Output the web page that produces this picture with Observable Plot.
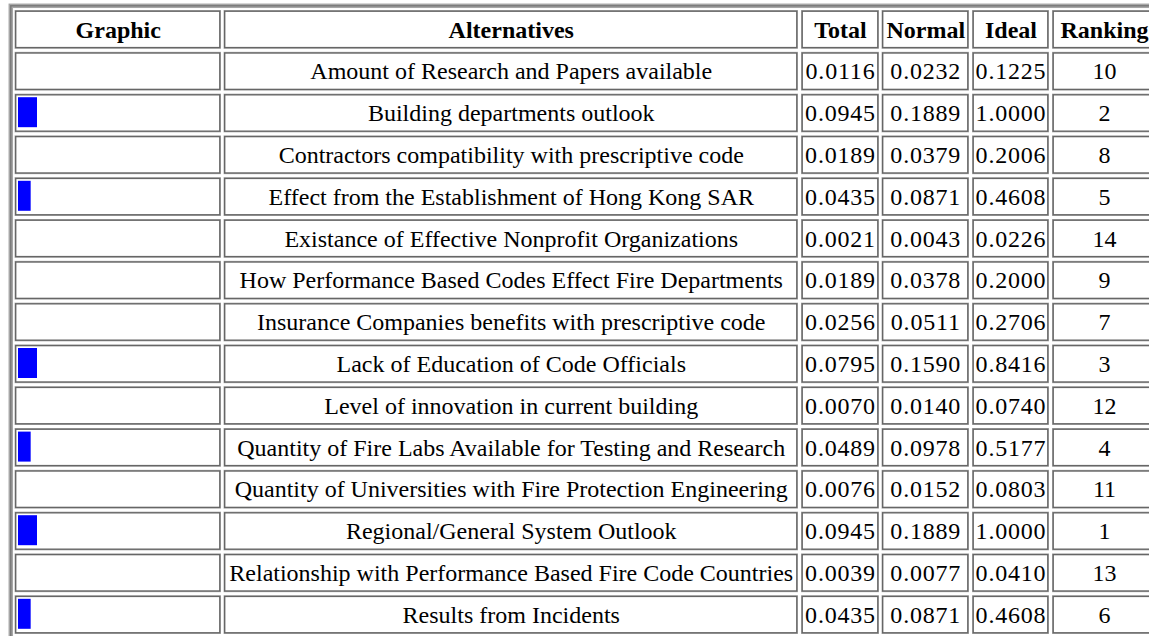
<!DOCTYPE html>
<html>
<head>
<meta charset="utf-8">
<script src="https://cdn.jsdelivr.net/npm/d3@7"></script>
<script src="https://cdn.jsdelivr.net/npm/@observablehq/plot@0.6"></script>
<style>
  html, body { margin: 0; padding: 0; background: #fff; overflow: hidden; }
  #chart svg { display: block; overflow: hidden; }
</style>
</head>
<body>
<div id="chart"></div>
<script>
// ---- data ----
const columns = ["Graphic", "Alternatives", "Total", "Normal", "Ideal", "Ranking"];
const alternatives = [
  "Amount of Research and Papers available",
  "Building departments outlook",
  "Contractors compatibility with prescriptive code",
  "Effect from the Establishment of Hong Kong SAR",
  "Existance of Effective Nonprofit Organizations",
  "How Performance Based Codes Effect Fire Departments",
  "Insurance Companies benefits with prescriptive code",
  "Lack of Education of Code Officials",
  "Level of innovation in current building",
  "Quantity of Fire Labs Available for Testing and Research",
  "Quantity of Universities with Fire Protection Engineering",
  "Regional/General System Outlook",
  "Relationship with Performance Based Fire Code Countries",
  "Results from Incidents"
];
const total   = [0.0116, 0.0945, 0.0189, 0.0435, 0.0021, 0.0189, 0.0256, 0.0795, 0.0070, 0.0489, 0.0076, 0.0945, 0.0039, 0.0435];
const normal  = [0.0232, 0.1889, 0.0379, 0.0871, 0.0043, 0.0378, 0.0511, 0.1590, 0.0140, 0.0978, 0.0152, 0.1889, 0.0077, 0.0871];
const ideal   = [0.1225, 1.0000, 0.2006, 0.4608, 0.0226, 0.2000, 0.2706, 0.8416, 0.0740, 0.5177, 0.0803, 1.0000, 0.0410, 0.4608];
const ranking = [10, 2, 8, 5, 14, 9, 7, 3, 12, 4, 11, 1, 13, 6];
// graphic bar length (levels)
const graphic = [0, 3, 0, 2, 0, 0, 0, 3, 0, 2, 0, 3, 0, 2];

// ---- layout (not data) ----
const W = 1149, H = 636;
const colEdges = {
  Graphic: [14.5, 221],
  Alternatives: [223.5, 798],
  Total: [801, 879],
  Normal: [881.5, 969],
  Ideal: [972, 1049],
  Ranking: [1052, 1156]
};
const center = c => (colEdges[c][0] + colEdges[c][1]) / 2;
const HEADER = "\u0000header";
const rowKeys = [HEADER, ...alternatives];

const rows = alternatives.map((name, i) => ({
  name, total: total[i], normal: normal[i], ideal: ideal[i], ranking: ranking[i], graphic: graphic[i]
}));
const cells = rowKeys.flatMap(r => columns.map(c => ({row: r, col: c})));

const barLen = d3.scaleLinear().domain([0, 3]).range([0, 19]);
const barStart = colEdges.Graphic[0] + 3.5;

const font = "'Liberation Serif', 'Times New Roman', serif";

const chart = Plot.plot({
  width: W,
  height: H,
  marginLeft: 10.3,
  marginTop: 5.3,
  marginRight: 0,
  marginBottom: 0,
  style: {fontFamily: font, color: "black", background: "white"},
  x: {type: "linear", domain: [0, W], range: [0, W], axis: null},
  y: {type: "band", domain: rowKeys, range: [10, 634], paddingInner: 0.072, paddingOuter: 0, round: false, axis: null},
  marks: [
    // outer table border
    Plot.frame({stroke: "#a6a6a6", strokeWidth: 4.5, insetRight: -20, insetBottom: -20}),
    Plot.frame({stroke: "#7a7a7a", strokeWidth: 1.5, insetRight: -20, insetBottom: -20}),
    // cells: light outer edge then dark inset line
    Plot.barX(cells, {
      x1: d => colEdges[d.col][0], x2: d => colEdges[d.col][1], y: "row",
      fill: "white", stroke: "#b4b4b4", strokeWidth: 1.2, inset: 0.6
    }),
    Plot.barX(cells, {
      x1: d => colEdges[d.col][0], x2: d => colEdges[d.col][1], y: "row",
      fill: "white", stroke: "#666", strokeWidth: 1.4, inset: 1.2
    }),
    // graphic bars
    Plot.barX(rows.filter(d => d.graphic > 0), {
      x1: () => barStart, x2: d => barStart + barLen(d.graphic), y: "name",
      fill: "#0000ff", insetTop: 3.6, insetBottom: 5.2
    }),
    // header texts
    Plot.text(columns, {
      x: c => center(c), y: () => HEADER, text: d => d,
      fontSize: 24, fontWeight: "bold", fill: "black", lineAnchor: "middle"
    }),
    // body texts
    Plot.text(rows, {x: () => center("Alternatives"), y: "name", text: "name", fontSize: 24, fill: "black", lineAnchor: "middle"}),
    Plot.text(rows, {x: () => center("Total"), y: "name", text: d => d.total.toFixed(4), fontSize: 24, fill: "black", lineAnchor: "middle"}),
    Plot.text(rows, {x: () => center("Normal"), y: "name", text: d => d.normal.toFixed(4), fontSize: 24, fill: "black", lineAnchor: "middle"}),
    Plot.text(rows, {x: () => center("Ideal"), y: "name", text: d => d.ideal.toFixed(4), fontSize: 24, fill: "black", lineAnchor: "middle"}),
    Plot.text(rows, {x: () => center("Ranking"), y: "name", text: d => String(d.ranking), fontSize: 24, fill: "black", lineAnchor: "middle"})
  ]
});
// widen the numeric labels slightly, as in the reference's hinted rendering
d3.select(chart).selectAll("text").filter(function() {
  return /^\d\.\d{4}$/.test(this.textContent);
}).style("letter-spacing", "0.8px");
document.getElementById("chart").append(chart);
</script>
</body>
</html>
